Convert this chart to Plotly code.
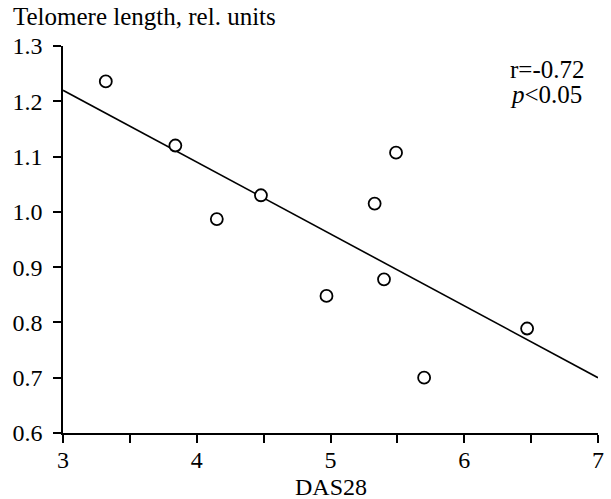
import plotly.graph_objects as go

# Data
das28 = [3.32, 3.84, 4.15, 4.48, 4.97, 5.33, 5.40, 5.49, 5.70, 6.47]
telomere = [1.236, 1.120, 0.987, 1.030, 0.848, 1.015, 0.878, 1.107, 0.700, 0.789]

fit_x = [3.0, 7.0]
fit_y = [1.220, 0.700]

x_tickvals = [3, 3.5, 4, 4.5, 5, 5.5, 6, 6.5, 7]
x_ticktext = ["3", "", "4", "", "5", "", "6", "", "7"]
y_tickvals = [0.6, 0.7, 0.8, 0.9, 1.0, 1.1, 1.2, 1.3]
y_ticktext = ["0.6", "0.7", "0.8", "0.9", "1.0", "1.1", "1.2", "1.3"]

FONT = "Liberation Serif, Times New Roman, serif"

fig = go.Figure()
fig.add_trace(go.Scatter(
    x=fit_x, y=fit_y, mode="lines",
    line=dict(color="black", width=1.6),
    showlegend=False, hoverinfo="skip", cliponaxis=False,
))
fig.add_trace(go.Scatter(
    x=das28, y=telomere, mode="markers",
    marker=dict(symbol="circle", size=12, color="white",
                line=dict(color="black", width=1.8)),
    showlegend=False, cliponaxis=False,
))

W, H = 611, 499
L, R, T, B = 63, 13, 46, 66

fig.update_layout(
    width=W, height=H,
    margin=dict(l=L, r=R, t=T, b=B, autoexpand=False),
    paper_bgcolor="white", plot_bgcolor="white",
    font=dict(family=FONT, size=24, color="black"),
    xaxis=dict(
        range=[3, 7], tickvals=x_tickvals, ticktext=x_ticktext,
        ticks="outside", ticklen=8, tickwidth=1.5, tickcolor="black",
        showline=True, linecolor="black", linewidth=1.5,
        showgrid=False, zeroline=False, fixedrange=True,
        ticklabelstandoff=-4,
        tickfont=dict(family=FONT, size=24, color="black"),
    ),
    yaxis=dict(
        range=[0.6, 1.3], tickvals=y_tickvals, ticktext=y_ticktext,
        ticks="outside", ticklen=8, tickwidth=1.5, tickcolor="black",
        showline=True, linecolor="black", linewidth=1.5,
        showgrid=False, zeroline=False, fixedrange=True,
        ticklabelstandoff=6,
        tickfont=dict(family=FONT, size=24, color="black"),
    ),
    annotations=[
        dict(text="Telomere length, rel. units", xref="paper", yref="paper",
             x=(11 - L) / (W - L - R), y=1 + (T - 17) / (H - T - B),
             xanchor="left", yanchor="middle", showarrow=False,
             font=dict(family=FONT, size=25, color="black")),
        dict(text="DAS28", xref="paper", yref="paper",
             x=0.5, y=-(487 - (H - B)) / (H - T - B),
             xanchor="center", yanchor="middle", showarrow=False,
             font=dict(family=FONT, size=24, color="black")),
        dict(text="r=-0.72", xref="paper", yref="paper",
             x=(508 - L) / (W - L - R), y=1 - (69 - T) / (H - T - B),
             xanchor="left", yanchor="middle", showarrow=False,
             font=dict(family=FONT, size=25, color="black")),
        dict(text="<i>p</i><0.05", xref="paper", yref="paper",
             x=(508 - L) / (W - L - R), y=1 - (95 - T) / (H - T - B),
             xanchor="left", yanchor="middle", showarrow=False,
             font=dict(family=FONT, size=25, color="black")),
    ],
)

fig.write_html("out.html", config={"displayModeBar": False},
               post_script="document.body.style.margin='0';")
